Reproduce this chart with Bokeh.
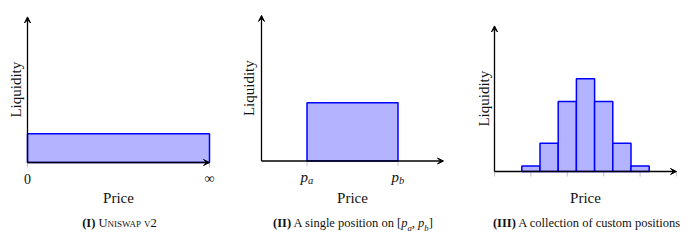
import numpy as np
from bokeh.plotting import figure
from bokeh.models import Arrow, VeeHead, Div, Range1d
from bokeh.layouts import row, column
from bokeh.core.properties import value
from bokeh.embed import file_html
from bokeh.resources import INLINE

# ---------------- data ----------------
axis_x_max = 4.0
axis_y_max = 3.2

# (I) Uniswap v2: one position over the whole price range
p1_left = [0.0]
p1_right = [4.0]
p1_top = [0.63]
p1_ticks = [0.0, 4.0]
p1_tick_labels = ["0", "∞"]

# (II) single position on [pa, pb]
p2_left = [1.0]
p2_right = [3.0]
p2_top = [1.28]
p2_ticks = [1.0, 3.0]
p2_tick_main = ["p", "p"]
p2_tick_sub = ["a", "b"]

# (III) collection of custom positions
p3_left = [0.6, 1.0, 1.4, 1.8, 2.2, 2.6, 3.0]
p3_right = [1.0, 1.4, 1.8, 2.2, 2.6, 3.0, 3.4]
p3_top = [0.12, 0.62, 1.54, 2.04, 1.54, 0.62, 0.12]
p3_ticks = [0.0, 0.8, 1.6, 2.4, 3.2, 4.0]

captions = [
    '<b>(I)</b> <span style="font-variant: small-caps;">Uniswap v2</span>',
    '<b>(II)</b> A single position on [<i>p</i><sub style="font-size:70%;line-height:0;"><i>a</i></sub>, '
    '<i>p</i><sub style="font-size:70%;line-height:0;"><i>b</i></sub>]',
    '<b>(III)</b> A collection of custom positions',
]

# ---------------- layout / style ----------------
FONT = "Liberation Serif"
S = 45.5          # pixels per unit
FIG_H = 205
CAP_H = 35
widths = [233, 234, 233]
origins = [(27, 162), (28, 160.5), (27, 171)]
price_off = [35, 36.5, 26]
liq_off = [12, 13, 11]
FILL = "#b3b3ff"
EDGE = "#0000ff"
TICK = "#c4c4c4"


def make_panel(i, left, right, top, ticks):
    w = widths[i]
    ox, oy = origins[i]
    p = figure(width=w, height=FIG_H,
               x_range=Range1d(-ox / S, (w - ox) / S),
               y_range=Range1d(-(FIG_H - oy) / S, oy / S),
               output_backend="svg", toolbar_location=None,
               x_axis_location=None, y_axis_location=None,
               min_border=0, outline_line_color=None)
    p.grid.visible = False
    p.ray(x=ticks, y=0, length=5, length_units="screen", angle=-np.pi / 2,
          line_color=TICK, line_width=1)
    p.quad(left=left, right=right, bottom=0, top=top,
           fill_color=FILL, line_color=EDGE, line_width=1.5)
    head = dict(size=6, line_color="black", fill_color="black", line_width=1)
    p.add_layout(Arrow(x_start=0, y_start=0, x_end=axis_x_max, y_end=0,
                       end=VeeHead(**head), line_color="black", line_width=1.3))
    p.add_layout(Arrow(x_start=0, y_start=0, x_end=0, y_end=axis_y_max,
                       end=VeeHead(**head), line_color="black", line_width=1.3))
    p.text(x=[axis_x_max / 2], y=[0], text=["Price"], y_offset=price_off[i],
           text_font=value(FONT), text_font_size="15px", text_color="#111111",
           text_align="center", text_baseline="middle")
    p.text(x=[0], y=[axis_y_max / 2], text=["Liquidity"], x_offset=-liq_off[i],
           angle=np.pi / 2, text_font=value(FONT), text_font_size="15px",
           text_color="#111111", text_align="center", text_baseline="middle")
    return p


f1 = make_panel(0, p1_left, p1_right, p1_top, p1_ticks)
f1.text(x=p1_ticks, y=0, text=p1_tick_labels, y_offset=16,
        text_font=value(FONT), text_font_size="14px", text_color="#111111",
        text_align="center", text_baseline="middle")

f2 = make_panel(1, p2_left, p2_right, p2_top, p2_ticks)
f2.text(x=p2_ticks, y=0, text=p2_tick_main, x_offset=1, y_offset=16,
        text_font=value(FONT), text_font_size="15px", text_font_style="italic",
        text_color="#111111", text_align="right", text_baseline="middle")
f2.text(x=p2_ticks, y=0, text=p2_tick_sub, x_offset=1, y_offset=19,
        text_font=value(FONT), text_font_size="10.5px", text_font_style="italic",
        text_color="#111111", text_align="left", text_baseline="middle")

f3 = make_panel(2, p3_left, p3_right, p3_top, p3_ticks)


def caption(i):
    html = ('<div style="font-family:\'Liberation Serif\',serif;font-size:12.5px;'
            'color:#111;text-align:center;width:%dpx;margin-top:11px;'
            'line-height:15px;position:relative;left:3px;">%s</div>' % (widths[i], captions[i]))
    return Div(text=html, width=widths[i], height=CAP_H, margin=(0, 0, 0, 0))


layout = row(column(f1, caption(0), spacing=0),
             column(f2, caption(1), spacing=0),
             column(f3, caption(2), spacing=0), spacing=0)

open("out.html", "w").write(file_html(layout, INLINE))
